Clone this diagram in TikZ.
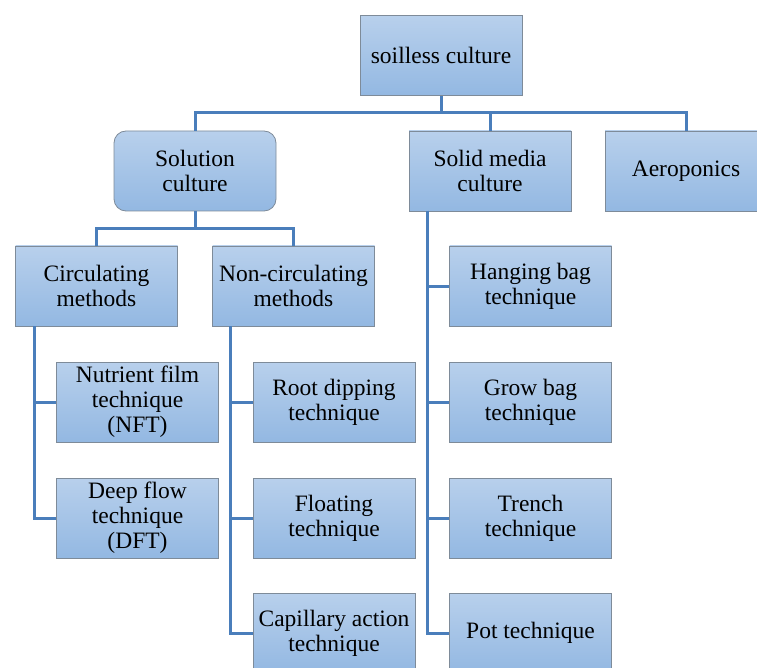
\documentclass[tikz,border=0pt]{standalone}
\usepackage{fontspec}
\setmainfont{Liberation Serif}
\definecolor{boxtop}{HTML}{B8D0EC}
\definecolor{boxbot}{HTML}{93B8E2}
\definecolor{boxline}{HTML}{7E8B99}
\definecolor{wire}{HTML}{4A7EBB}
\begin{document}
\begin{tikzpicture}[x=1pt,y=-1pt,
    box/.style={draw=boxline, line width=0.8pt, top color=boxtop, bottom color=boxbot,
        minimum width=162pt, minimum height=80pt, align=center, inner sep=2pt,
        font=\fontsize{23.5}{25}\selectfont},
    roundbox/.style={box, rounded corners=12pt},
    wire/.style={draw=wire, line width=3pt}]
    \useasboundingbox (0,0) rectangle (757,668);

    % Top level
    \node[box] (soil) at (441,55.5) {soilless culture};
    \node[roundbox] (sol) at (195,171) {Solution\\culture};
    \node[box] (solid) at (490,171) {Solid media\\culture};
    \node[box] (aero) at (686,171) {Aeroponics};

    % Solution culture
    \node[box] (circ) at (96.5,286) {Circulating\\methods};
    \node[box] (noncirc) at (293.5,286) {Non-circulating\\methods};
    \node[box] (nft) at (137.5,402) {Nutrient film\\technique\\(NFT)};
    \node[box] (dft) at (137.5,518) {Deep flow\\technique\\(DFT)};
    \node[box] (root) at (334,402) {Root dipping\\technique};
    \node[box] (float) at (334,518) {Floating\\technique};
    \node[box] (capil) at (334,633) {Capillary action\\technique};

    % Solid media culture
    \node[box] (hang) at (530.5,286) {Hanging bag\\technique};
    \node[box] (grow) at (530.5,402) {Grow bag\\technique};
    \node[box] (trench) at (530.5,518) {Trench\\technique};
    \node[box] (pot) at (530.5,633) {Pot technique};

    % Connectors
    \coordinate (bus) at (441,113);
    \draw[wire] (soil.south) -- (bus) -| (sol.north);
    \draw[wire] (bus) -| (solid.north);
    \draw[wire] (bus) -| (aero.north);

    \coordinate (solbus) at (195,229);
    \draw[wire] (sol.south) -- (solbus) -| (circ.north);
    \draw[wire] (solbus) -| (noncirc.north);

    \coordinate (circtrunk) at (34,326);
    \foreach \n in {nft,dft}
        \draw[wire] (circtrunk) |- (\n.west);

    \coordinate (nontrunk) at (230,326);
    \foreach \n in {root,float,capil}
        \draw[wire] (nontrunk) |- (\n.west);

    \coordinate (solidtrunk) at (427,211);
    \foreach \n in {hang,grow,trench,pot}
        \draw[wire] (solidtrunk) |- (\n.west);
\end{tikzpicture}
\end{document}
